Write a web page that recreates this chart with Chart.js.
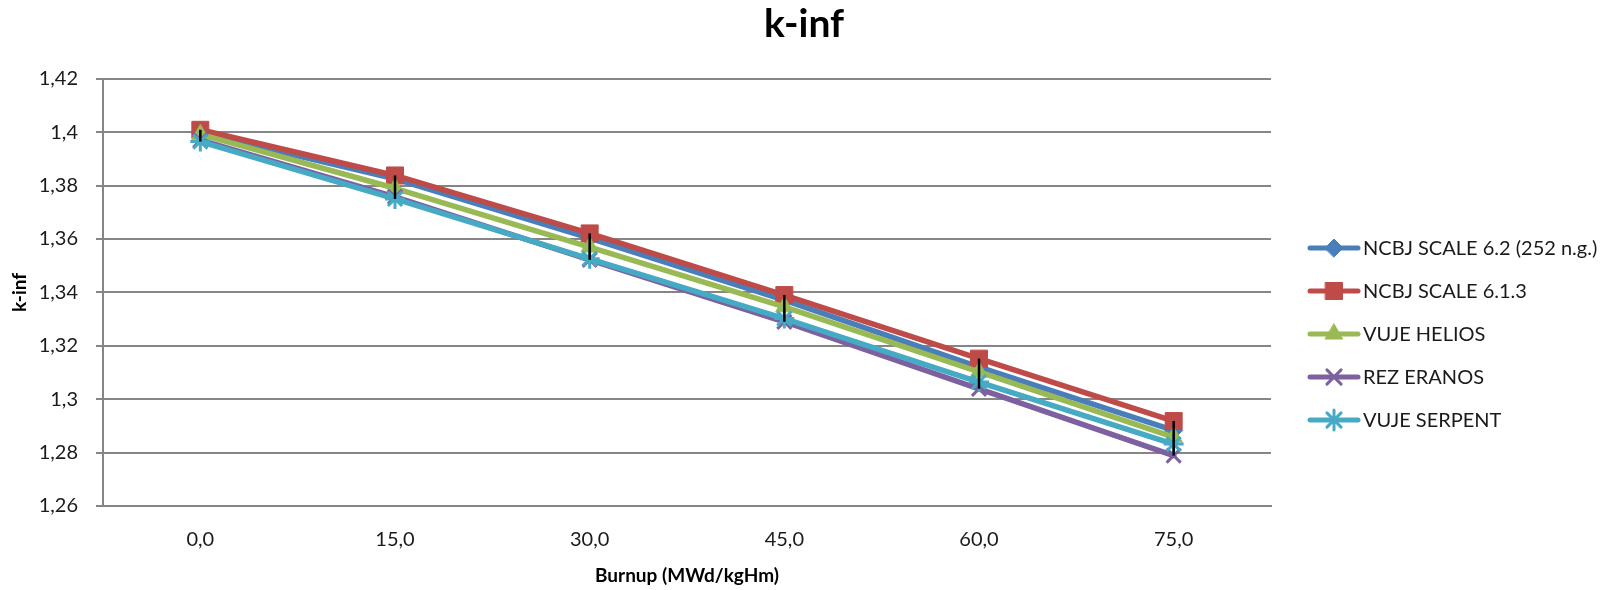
<!DOCTYPE html>
<html>
<head>
<meta charset="utf-8">
<script src="https://cdn.jsdelivr.net/npm/chart.js@4/dist/chart.umd.min.js"></script>
<style>
html,body{margin:0;padding:0;background:#ffffff;}
#wrap{width:1618px;height:590px;position:relative;}
</style>
</head>
<body>
<div id="wrap"><canvas id="c" width="1618" height="590"></canvas></div>
<script>
// ---------- DATA ----------
const burnupLabels = ['0,0', '15,0', '30,0', '45,0', '60,0', '75,0'];
const ncbjScale62  = [1.3998, 1.3825, 1.3603, 1.3371, 1.3120, 1.2883];
const ncbjScale613 = [1.4009, 1.3838, 1.3621, 1.3390, 1.3152, 1.2918];
const vujeHelios   = [1.3992, 1.3790, 1.3570, 1.3346, 1.3102, 1.2858];
const rezEranos    = [1.3970, 1.3758, 1.3522, 1.3290, 1.3039, 1.2789];
const vujeSerpent  = [1.3965, 1.3750, 1.3526, 1.3302, 1.3064, 1.2832];
const seriesNames  = ['NCBJ SCALE 6.2 (252 n.g.)', 'NCBJ SCALE 6.1.3', 'VUJE HELIOS', 'REZ ERANOS', 'VUJE SERPENT'];
const yMin = 1.26, yMax = 1.42, yStep = 0.02;

// ---------- STYLE ----------
const seriesColors = ['#4A7EBB', '#BE4B48', '#98B954', '#7D60A0', '#46AAC5'];
const seriesMarkers = ['rectRot', 'rect', 'triangle', 'crossRot', 'star'];
const markerRadius = [9, 12, 10, 10, 10];
const markerBorder = [1, 1, 1, 3, 3];
const FONT = 'Lato, "Open Sans", sans-serif';

const seriesValues = [ncbjScale62, ncbjScale613, vujeHelios, rezEranos, vujeSerpent];

const datasets = seriesValues.map((vals, i) => ({
  label: seriesNames[i],
  data: vals,
  borderColor: seriesColors[i],
  backgroundColor: seriesColors[i],
  pointBackgroundColor: seriesColors[i],
  pointBorderColor: seriesColors[i],
  pointStyle: seriesMarkers[i],
  pointRadius: markerRadius[i],
  pointHoverRadius: markerRadius[i],
  pointBorderWidth: markerBorder[i],
  borderWidth: 5.5,
  borderJoinStyle: 'round',
  borderCapStyle: 'round',
  tension: 0,
  fill: false,
  order: seriesValues.length - 1 - i
}));

function drawMarker(ctx, style, r, bw, x, y) {
  if (Chart.helpers && Chart.helpers.drawPoint) {
    Chart.helpers.drawPoint(ctx, {pointStyle: style, radius: r, borderWidth: bw, rotation: 0}, x, y);
    return;
  }
  ctx.beginPath();
  ctx.arc(x, y, r * 0.7, 0, Math.PI * 2);
  ctx.fill();
}

// high-low lines (max to min across series at each category)
const highLowPlugin = {
  id: 'highLow',
  afterDatasetsDraw(chart) {
    const ctx = chart.ctx;
    const xs = chart.scales.x, ys = chart.scales.y;
    ctx.save();
    ctx.strokeStyle = '#000000';
    ctx.lineWidth = 2.5;
    burnupLabels.forEach((lab, j) => {
      const col = seriesValues.map(s => s[j]);
      const hi = Math.max.apply(null, col), lo = Math.min.apply(null, col);
      const px = xs.getPixelForValue(j);
      ctx.beginPath();
      ctx.moveTo(px, ys.getPixelForValue(hi));
      ctx.lineTo(px, ys.getPixelForValue(lo));
      ctx.stroke();
    });
    ctx.restore();
  }
};

// side legend: line + marker + label
const sideLegendPlugin = {
  id: 'sideLegend',
  afterDraw(chart) {
    const ctx = chart.ctx;
    const x0 = chart.chartArea.right + 39;
    const y0 = 248, step = 43;
    chart.data.datasets.forEach((ds, i) => {
      const y = y0 + i * step;
      ctx.save();
      ctx.strokeStyle = ds.borderColor;
      ctx.lineWidth = 5;
      ctx.lineCap = 'round';
      ctx.beginPath();
      ctx.moveTo(x0, y);
      ctx.lineTo(x0 + 48, y);
      ctx.stroke();
      ctx.fillStyle = ds.pointBackgroundColor;
      ctx.strokeStyle = ds.pointBorderColor;
      ctx.lineWidth = ds.pointBorderWidth;
      drawMarker(ctx, ds.pointStyle, ds.pointRadius, ds.pointBorderWidth, x0 + 24, y);
      ctx.fillStyle = '#1a1a1a';
      ctx.font = '20px ' + FONT;
      ctx.textBaseline = 'middle';
      ctx.textAlign = 'left';
      ctx.fillText(ds.label, x0 + 53, y + 1);
      ctx.restore();
    });
  }
};

Chart.defaults.font.family = FONT;
Chart.defaults.color = '#1a1a1a';

new Chart(document.getElementById('c'), {
  type: 'line',
  data: { labels: burnupLabels, datasets: datasets },
  options: {
    responsive: false,
    animation: false,
    devicePixelRatio: 1,
    layout: { padding: { left: 0, right: 10, top: 0, bottom: 0 } },
    plugins: {
      legend: { display: false },
      tooltip: { enabled: false },
      title: {
        display: true,
        text: 'k-inf',
        color: '#000000',
        font: { size: 39, weight: 'bold', family: FONT },
        padding: { top: 1, bottom: 31 }
      }
    },
    scales: {
      x: {
        type: 'category',
        offset: true,
        grid: { display: false, drawTicks: false },
        border: { display: true, color: '#868686', width: 2 },
        ticks: { padding: 22, font: { size: 20 }, color: '#1a1a1a' },
        title: {
          display: true,
          text: 'Burnup (MWd/kgHm)',
          color: '#000000',
          font: { size: 19, weight: 'bold' },
          padding: { top: 0, bottom: 3 }
        },
        afterFit(s) { s.height = 84; }
      },
      y: {
        type: 'linear',
        min: yMin,
        max: yMax,
        grid: { color: '#868686', lineWidth: 2, tickLength: 7, drawTicks: true },
        border: { display: true, color: '#868686', width: 2 },
        ticks: {
          stepSize: yStep,
          padding: 18,
          font: { size: 20 },
          color: '#1a1a1a',
          callback: (v) => String(Math.round(v * 100) / 100).replace('.', ',')
        },
        title: {
          display: true,
          text: 'k-inf',
          color: '#000000',
          font: { size: 19, weight: 'bold' },
          padding: { top: 8, bottom: 0 }
        },
        afterFit(s) { s.width = 103; }
      },
      legendSpace: {
        type: 'linear',
        position: 'right',
        display: true,
        grid: { display: false, drawTicks: false },
        border: { display: false },
        ticks: { display: false },
        afterFit(s) { s.width = 337; }
      }
    }
  },
  plugins: [highLowPlugin, sideLegendPlugin]
});
</script>
</body>
</html>
